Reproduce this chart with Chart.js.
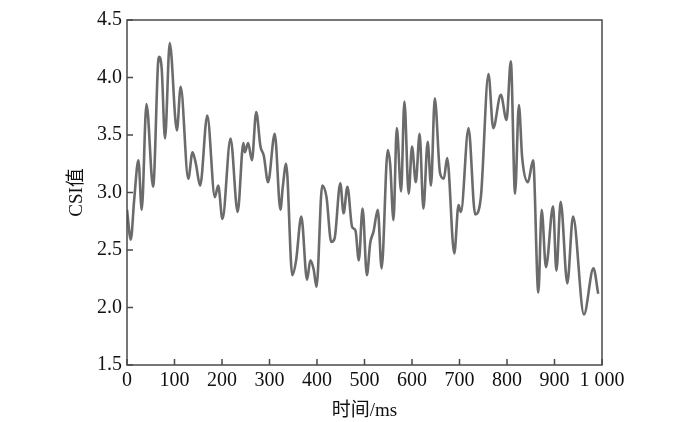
<!DOCTYPE html>
<html lang="zh">
<head>
    <meta charset="UTF-8">
    <title>CSI值</title>
    <script src="https://cdn.jsdelivr.net/npm/chart.js"></script>
    <style>
        html, body { margin: 0; padding: 0; background: #fff; }
        #wrap { width: 700px; height: 422px; }
    </style>
</head>
<body>
    <div id="wrap"><canvas id="csiChart" width="700" height="422"></canvas></div>

    <script>
        // time (ms) and CSI value
        const timeMs = [
            0, 8, 15, 24, 31, 41, 55, 67, 73, 80, 90, 105, 113, 129, 138, 145, 154,
            169, 185, 192, 201, 218, 233, 245, 248, 255, 263, 272, 281, 288, 297,
            311, 323, 328, 335, 348, 356, 367, 379, 386, 393, 399, 411, 420, 430,
            437, 449, 456, 464, 474, 481, 488, 496, 505, 512, 519, 528, 536, 549,
            554, 561, 568, 577, 584, 593, 600, 608, 616, 624, 633, 640, 648, 659,
            667, 674, 689, 698, 703, 719, 733, 745, 761, 771, 787, 799, 808, 817,
            825, 832, 844, 855, 866, 873, 882, 897, 904, 913, 927, 939, 962, 982, 992
        ];
        const csiValues = [
            2.85, 2.59, 2.93, 3.28, 2.85, 3.77, 3.05, 4.18, 4.08, 3.47, 4.30, 3.54, 3.92,
            3.12, 3.35, 3.25, 3.06, 3.67, 2.96, 3.06, 2.77, 3.47, 2.83, 3.43, 3.35,
            3.43, 3.28, 3.70, 3.40, 3.32, 3.09, 3.51, 2.85, 3.05, 3.25, 2.28, 2.41,
            2.79, 2.24, 2.41, 2.33, 2.18, 3.06, 2.96, 2.57, 2.60, 3.08, 2.82, 3.05,
            2.70, 2.67, 2.41, 2.86, 2.28, 2.56, 2.66, 2.85, 2.34, 3.37, 3.25, 2.76,
            3.56, 3.01, 3.79, 2.99, 3.40, 3.09, 3.51, 2.86, 3.44, 3.06, 3.82, 3.17,
            3.12, 3.30, 2.47, 2.89, 2.83, 3.56, 2.81, 2.96, 4.03, 3.56, 3.85, 3.63,
            4.14, 2.99, 3.76, 3.30, 3.09, 3.28, 2.13, 2.85, 2.35, 2.88, 2.32, 2.92,
            2.21, 2.79, 1.94, 2.34, 2.12
        ];
        const xTickValues = [0, 100, 200, 300, 400, 500, 600, 700, 800, 900, 1000];
        const xTickLabels = ['0', '100', '200', '300', '400', '500', '600', '700', '800', '900', '1 000'];
        const yTickValues = [1.5, 2.0, 2.5, 3.0, 3.5, 4.0, 4.5];
        const yTickLabels = ['1.5', '2.0', '2.5', '3.0', '3.5', '4.0', '4.5'];

        const fontFamily = '"Liberation Serif", "Noto Sans CJK SC", serif';
        const axisColor = '#4a4a4a';

        // frame + inward tick marks
        const framePlugin = {
            id: 'frame',
            afterDraw(chart) {
                const ctx = chart.ctx;
                const area = chart.chartArea;
                const xs = chart.scales.x, ys = chart.scales.y;
                ctx.save();
                ctx.strokeStyle = axisColor;
                ctx.lineWidth = 1.5;
                ctx.strokeRect(area.left, area.top, area.right - area.left, area.bottom - area.top);
                ctx.beginPath();
                xTickValues.forEach(v => {
                    const px = xs.getPixelForValue(v);
                    ctx.moveTo(px, area.bottom);
                    ctx.lineTo(px, area.bottom - 6);
                });
                yTickValues.forEach(v => {
                    const py = ys.getPixelForValue(v);
                    ctx.moveTo(area.left, py);
                    ctx.lineTo(area.left + 6, py);
                });
                ctx.stroke();
                ctx.restore();
            }
        };

        const ctx = document.getElementById('csiChart').getContext('2d');
        const csiChart = new Chart(ctx, {
            type: 'line',
            data: {
                datasets: [{
                    label: 'CSI',
                    data: timeMs.map((t, i) => ({ x: t, y: csiValues[i] })),
                    borderColor: '#6b6b6b',
                    borderWidth: 2.6,
                    pointRadius: 0,
                    fill: false,
                    cubicInterpolationMode: 'monotone'
                }]
            },
            options: {
                responsive: false,
                animation: false,
                layout: { padding: { top: 20, right: 98, left: 0, bottom: 0 } },
                plugins: {
                    legend: { display: false },
                    tooltip: { enabled: false }
                },
                scales: {
                    x: {
                        type: 'linear',
                        min: 0,
                        max: 1000,
                        afterBuildTicks(scale) {
                            scale.ticks = xTickValues.map(v => ({ value: v }));
                        },
                        afterFit(scale) { scale.height = 57; },
                        grid: { display: false, drawTicks: false },
                        border: { display: false },
                        ticks: {
                            color: '#111',
                            padding: 4,
                            maxRotation: 0,
                            autoSkip: false,
                            font: { family: fontFamily, size: 20 },
                            callback: (v) => xTickLabels[xTickValues.indexOf(v)]
                        },
                        title: {
                            display: true,
                            text: '时间/ms',
                            color: '#111',
                            padding: { top: 0, bottom: 0 },
                            font: { family: fontFamily, size: 19 }
                        }
                    },
                    y: {
                        min: 1.5,
                        max: 4.5,
                        afterBuildTicks(scale) {
                            scale.ticks = yTickValues.map(v => ({ value: v }));
                        },
                        afterFit(scale) { scale.width = 127; },
                        grid: { display: false, drawTicks: false },
                        border: { display: false },
                        ticks: {
                            color: '#111',
                            padding: 5,
                            autoSkip: false,
                            font: { family: fontFamily, size: 20 },
                            callback: (v) => yTickLabels[yTickValues.indexOf(v)]
                        },
                        title: {
                            display: true,
                            text: 'CSI值',
                            color: '#111',
                            padding: { top: 66, bottom: 0 },
                            font: { family: fontFamily, size: 19 }
                        }
                    }
                }
            },
            plugins: [framePlugin]
        });
    </script>
</body>
</html>
